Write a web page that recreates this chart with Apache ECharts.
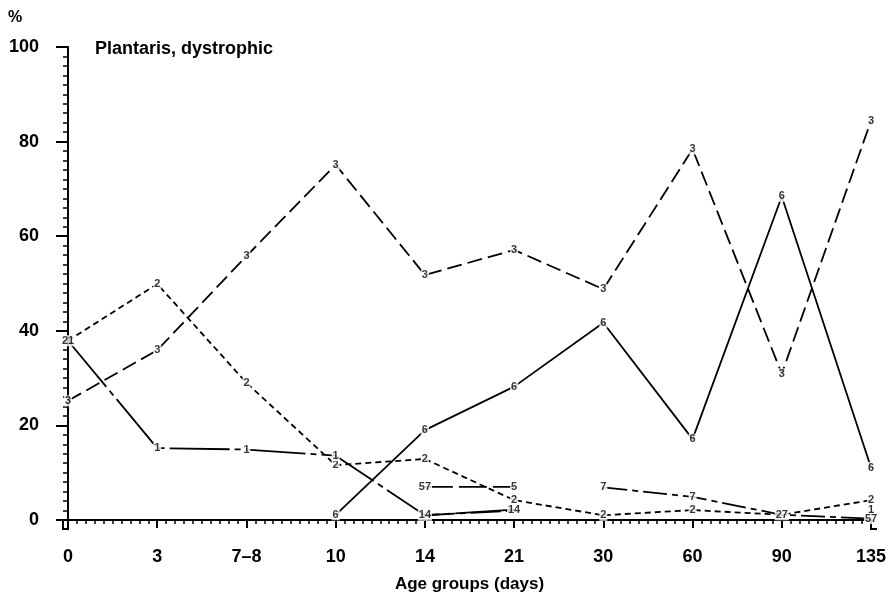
<!DOCTYPE html>
<html>
<head>
<meta charset="utf-8">
<script src="https://cdn.jsdelivr.net/npm/echarts@6/dist/echarts.min.js"></script>
<style>
  html, body { margin: 0; padding: 0; background: #fff; }
  #chart { width: 894px; height: 604px; }
</style>
</head>
<body>
<div id="chart"></div>
<script>
// Age groups along the x axis (days)
const ageGroups = ['0', '3', '7–8', '10', '14', '21', '30', '60', '90', '135'];

// Percentage per age group for each numbered fibre class (null = not present)
const class3 = [25.2, 35.9, 55.8, 75.1, 51.8, 57.1, 48.8, 78.4, 30.9, 84.4];
const class6 = [null, null, null, 1.1, 19.0, 28.2, 41.7, 17.1, 68.4, 11.1];
const class2 = [37.9, 49.9, 29.0, 11.6, 12.9, 4.2, 1.0, 2.1, 1.1, 4.2];
const class1 = [37.9, 15.2, 14.9, 13.6, 1.0, 2.2, null, null, null, 2.1];
const class4 = [null, null, null, null, 1.0, 2.0, null, null, null, null];
const class5 = [null, null, null, null, 7.0, 7.0, null, null, null, 0.3];
const class7 = [null, null, null, null, 7.0, null, 6.9, 4.9, 1.1, 0.3];

const FONT = '"Liberation Sans", Arial, Helvetica, sans-serif';

const classes = [
  { name: '3', data: class3, dash: [15, 6] },
  { name: '6', data: class6, dash: 'solid' },
  { name: '2', data: class2, dash: [6, 4] },
  { name: '1', data: class1, dash: [60, 5, 6, 5] },
  { name: '4', data: class4, dash: [30, 5, 6, 5] },
  { name: '5', data: class5, dash: [28, 6] },
  { name: '7', data: class7, dash: [24, 5, 6, 5] }
];

// Class number tags at every point; coinciding points share one tag ("21", "57", ...)
const tags = [];
classes.forEach(c => c.data.forEach((v, i) => {
  if (v == null) return;
  const hit = tags.find(t => t.value[0] === i && Math.abs(t.value[1] - v) < 0.5);
  if (hit) hit.text += c.name;
  else tags.push({ value: [i, v], text: c.name });
}));

const lineSeries = classes.map(c => ({
  name: c.name,
  type: 'line',
  data: c.data.map((v, i) => [i, v]),
  symbol: 'none',
  connectNulls: false,
  lineStyle: { color: '#000', width: 1.8, type: c.dash },
  z: 2
}));

const chart = echarts.init(document.getElementById('chart'), null, { renderer: 'canvas' });
chart.setOption({
  animation: false,
  backgroundColor: '#fff',
  grid: { left: 68, right: 23, top: 47, bottom: 84 },
  xAxis: {
    type: 'value', min: 0, max: 9, interval: 1, offset: 9,
    axisLine: { lineStyle: { color: '#000', width: 2 } },
    axisTick: { length: 8, lineStyle: { color: '#000', width: 2 } },
    minorTick: { show: true, splitNumber: 10, length: 4, lineStyle: { color: '#000', width: 1.5 } },
    splitLine: { show: false },
    minorSplitLine: { show: false },
    axisLabel: {
      formatter: v => ageGroups[v] || '',
      color: '#000', fontSize: 18, fontWeight: 'bold', fontFamily: FONT, margin: 19
    },
    name: 'Age groups (days)',
    nameLocation: 'middle',
    nameGap: 47,
    nameTextStyle: { color: '#000', fontSize: 17, fontWeight: 'bold', fontFamily: FONT }
  },
  yAxis: {
    type: 'value', min: 0, max: 100, interval: 20, offset: 5,
    axisLine: { show: true, lineStyle: { color: '#000', width: 2 } },
    axisTick: { length: 12, lineStyle: { color: '#000', width: 2 } },
    minorTick: { show: true, splitNumber: 10, length: 5, lineStyle: { color: '#000', width: 1.5 } },
    splitLine: { show: false },
    minorSplitLine: { show: false },
    axisLabel: { color: '#000', fontSize: 18, fontWeight: 'bold', fontFamily: FONT, margin: 24 }
  },
  graphic: [
    { type: 'text', left: 8, top: 10, style: { text: '%', fill: '#000', font: 'bold 16px ' + FONT } },
    { type: 'text', left: 95, top: 40, style: { text: 'Plantaris, dystrophic', fill: '#000', font: 'bold 18px ' + FONT } },
    // axis line continuations where the two axes meet and past the last group
    { type: 'line', shape: { x1: 63, y1: 519, x2: 63, y2: 530 }, style: { stroke: '#000', lineWidth: 2 } },
    { type: 'line', shape: { x1: 62, y1: 529, x2: 69, y2: 529 }, style: { stroke: '#000', lineWidth: 2 } },
    { type: 'line', shape: { x1: 870, y1: 529, x2: 877, y2: 529 }, style: { stroke: '#000', lineWidth: 2 } }
  ],
  series: lineSeries.concat([{
    type: 'scatter',
    data: tags,
    symbolSize: 1,
    itemStyle: { color: 'rgba(0,0,0,0)' },
    z: 5,
    label: {
      show: true,
      position: 'inside',
      formatter: p => p.data.text,
      color: '#000', fontSize: 11, fontWeight: 'bold', fontFamily: FONT,
      backgroundColor: '#fff', padding: [0, 1]
    }
  }])
});
</script>
</body>
</html>
